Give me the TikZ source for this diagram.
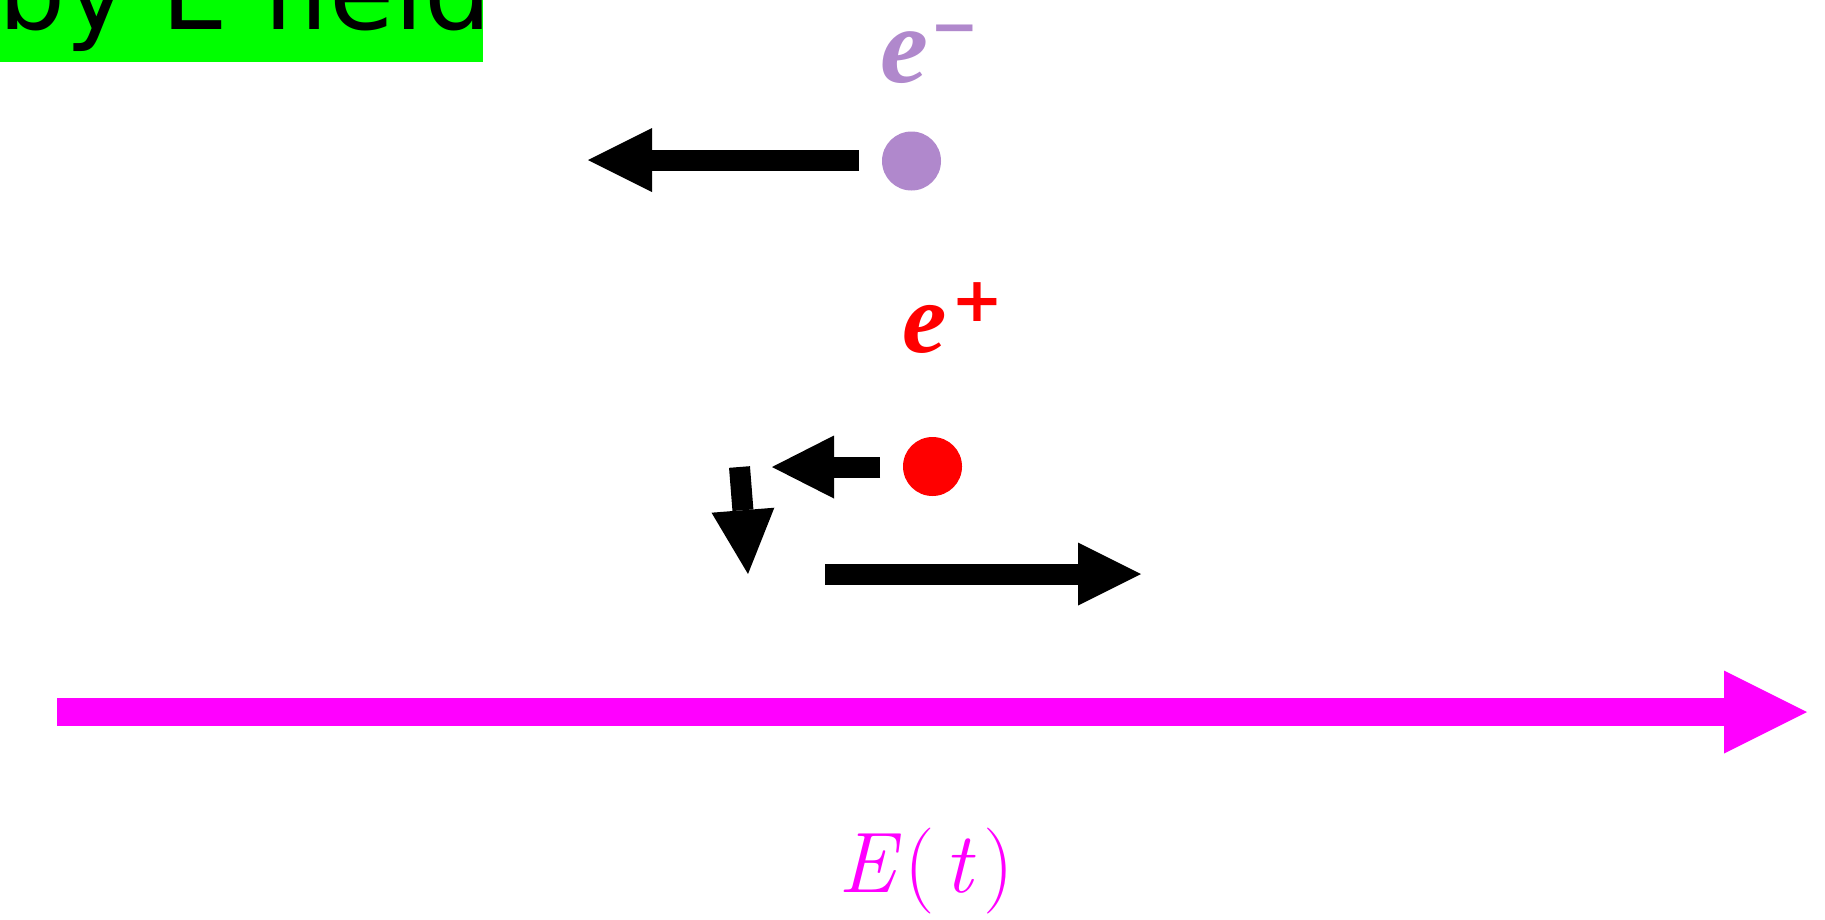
\documentclass[tikz,border=0pt]{standalone}
\usepackage{fontspec}
\newfontfamily\sansf{DejaVu Sans}
\newfontfamily\labelf{Liberation Serif}
\usetikzlibrary{arrows.meta}
\definecolor{elecpurple}{RGB}{176,136,204}
\definecolor{fieldmag}{RGB}{255,0,255}
\definecolor{boxgreen}{RGB}{0,255,0}
\begin{document}
\begin{tikzpicture}[x=1pt,y=-1pt,
  push/.style={line width=21pt,-{Triangle[length=64pt,width=64pt,line width=0pt]}},
  fieldarrow/.style={fieldmag,line width=28pt,-{Triangle[length=83pt,width=83pt,line width=0pt]}},
  particle/.style={circle,inner sep=0pt,minimum size=59pt},
  lbl/.style={inner sep=0pt,anchor=base west}]
\useasboundingbox (0,0) rectangle (1825,919);
\clip (0,0) rectangle (1825,919);
\fill[boxgreen] (0,0) rectangle (483,62);
\node[lbl,font=\sansf\fontsize{106}{106}\selectfont] (title) at (-2,29) {by E field};
% particles
\node[particle,fill=elecpurple] (eminus) at (911.5,161) {};
\node[particle,fill=red] (eplus) at (932.5,466.5) {};
% labels
\node[lbl,text=elecpurple] (eminuslbl) at (880,82)
  {\labelf\fontsize{108}{108}\selectfont\bfseries\itshape e\kern2pt\raisebox{36pt}{\sansf\fontsize{58}{58}\selectfont −}};
\node[lbl,text=red] (epluslbl) at (902,352)
  {\labelf\fontsize{100}{100}\selectfont\bfseries\itshape e\kern5pt\raisebox{31pt}{\sansf\fontsize{62}{62}\selectfont +}};
\node[lbl,text=fieldmag] (fieldlbl) at (838,892)
  {\fontsize{86}{86}\selectfont\itshape E\kern9pt\upshape(\kern10pt\itshape t\kern11pt\upshape)};
% arrows
\coordinate (a1s) at (859,160);
\coordinate (a1e) at (588,160);
\coordinate (a2s) at (880,467);
\coordinate (a2e) at (772,467);
\coordinate (a3s) at (739.5,467);
\coordinate (a3e) at (748,574);
\coordinate (a4s) at (825,574);
\coordinate (a4e) at (1141,574);
\coordinate (fs) at (57,712);
\coordinate (fe) at (1807,712);
\draw[push] (a1s) -- (a1e);
\draw[push,-{Triangle[length=62pt,width=63pt,line width=0pt]}] (a2s) -- (a2e);
\draw[push,-{Triangle[length=64pt,width=63pt,line width=0pt]}] (a3s) -- (a3e);
\draw[push,-{Triangle[length=63pt,width=63pt,line width=0pt]}] (a4s) -- (a4e);
\draw[fieldarrow] (fs) -- (fe);
\end{tikzpicture}
\end{document}
